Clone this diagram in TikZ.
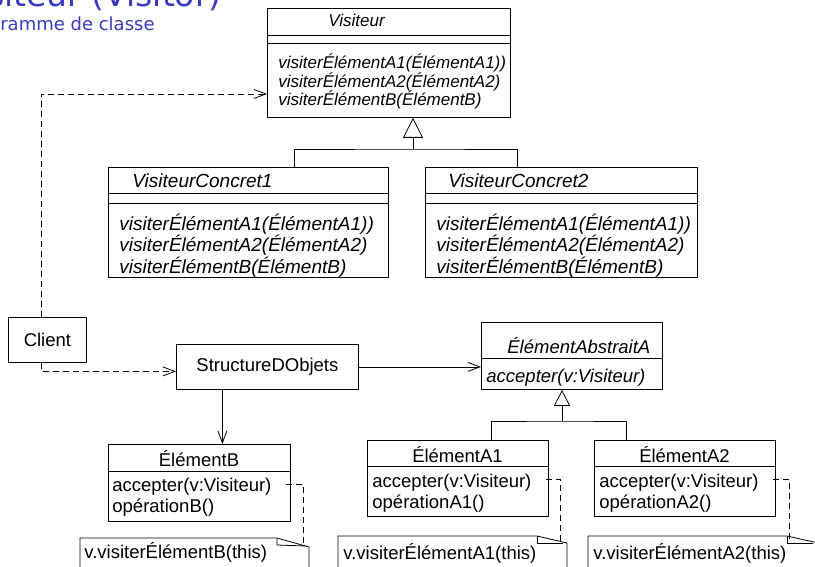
\documentclass[tikz,border=0pt]{standalone}
\usepackage{fontspec}
\setmainfont{Liberation Sans}
\newfontfamily\titlefont{DejaVu Sans}
\usetikzlibrary{arrows.meta,positioning}
\definecolor{bleutitre}{RGB}{58,58,190}
\newcommand{\petit}{\fontsize{17}{18.5}\selectfont}
\newcommand{\moyen}{\fontsize{18.5}{21}\selectfont}
\newcommand{\grand}{\fontsize{19}{19}\selectfont}

\tikzset{
  classe/.style={draw, rectangle, anchor=north west, inner sep=0pt},
  texte/.style={anchor=base west, inner sep=0pt, align=left},
  dep/.style={dash pattern=on 6pt off 4pt, -{Straight Barb[length=12pt, width=9pt]}},
  assoc/.style={-{Straight Barb[length=12pt, width=9pt]}},
  herit/.style={-{Triangle[open, length=20pt, width=20pt]}},
  lien/.style={dash pattern=on 6pt off 4pt},
}

\begin{document}
\begin{tikzpicture}[x=1pt, y=-1pt, line width=0.8pt]
  \useasboundingbox (0,0) rectangle (815,567);
  \clip (0,0) rectangle (815,567);

  % Title
  \node[anchor=base east, inner sep=0pt, text=bleutitre, font=\titlefont\fontsize{33}{33}\selectfont] (titre) at (222,7) {Visiteur (Visitor)};
  \node[anchor=base east, inner sep=0pt, text=bleutitre, font=\titlefont\fontsize{18}{18}\selectfont] (soustitre) at (155,31) {Diagramme de classe};

  % Visiteur (multi-line texts are placed by their last baseline)
  \node[classe, minimum width=243, minimum height=109] (vis) at (267,8) {};
  \draw ([yshift=-27pt]vis.north west) -- ([yshift=-27pt]vis.north east);
  \draw ([yshift=-35pt]vis.north west) -- ([yshift=-35pt]vis.north east);
  \node[texte, font=\petit\itshape] (vis-nom) at (328,27) {Visiteur};
  \node[texte, font=\petit\itshape] (vis-ops) at (278,106) {visiterÉlémentA1(ÉlémentA1))\\visiterÉlémentA2(ÉlémentA2)\\visiterÉlémentB(ÉlémentB)};

  % Concrete visitors
  \node[classe, minimum width=280, minimum height=110] (vc1) at (108,167) {};
  \draw ([yshift=-26pt]vc1.north west) -- ([yshift=-26pt]vc1.north east);
  \draw ([yshift=-36pt]vc1.north west) -- ([yshift=-36pt]vc1.north east);
  \node[texte, font=\grand\itshape] (vc1-nom) at (132,188) {VisiteurConcret1};
  \node[texte, font=\grand\itshape] (vc1-ops) at (119,273) {visiterÉlémentA1(ÉlémentA1))\\visiterÉlémentA2(ÉlémentA2)\\visiterÉlémentB(ÉlémentB)};

  \node[classe, minimum width=272, minimum height=110] (vc2) at (425,167) {};
  \draw ([yshift=-26pt]vc2.north west) -- ([yshift=-26pt]vc2.north east);
  \draw ([yshift=-36pt]vc2.north west) -- ([yshift=-36pt]vc2.north east);
  \node[texte, font=\grand\itshape] (vc2-nom) at (448,188) {VisiteurConcret2};
  \node[texte, font=\grand\itshape] (vc2-ops) at (436,273) {visiterÉlémentA1(ÉlémentA1))\\visiterÉlémentA2(ÉlémentA2)\\visiterÉlémentB(ÉlémentB)};

  % Inheritance of the visitors
  \coordinate (j1) at (413,149);
  \draw[herit] (j1) -- (j1 |- vis.south);
  \draw ([xshift=186pt]vc1.north west) |- (j1) -| ([xshift=92pt]vc2.north west);

  % Client and structure
  \node[classe, minimum width=78, minimum height=45, font=\moyen] (client) at (8,317) {Client};
  \node[classe, minimum width=182, minimum height=45, font=\moyen] (sdo) at (176,344) {StructureDObjets};

  % Element classes
  \node[classe, minimum width=181, minimum height=67] (eaa) at (481,322) {};
  \draw ([yshift=-36pt]eaa.north west) -- ([yshift=-36pt]eaa.north east);
  \node[texte, font=\moyen\itshape] (eaa-nom) at (507,353) {ÉlémentAbstraitA};
  \node[texte, font=\moyen\itshape] (eaa-ops) at (486,382) {accepter(v:Visiteur)};

  \node[classe, minimum width=182, minimum height=77] (eb) at (108,444) {};
  \draw ([yshift=-27pt]eb.north west) -- ([yshift=-27pt]eb.north east);
  \node[anchor=base, inner sep=0pt, font=\moyen] (eb-nom) at (199,466) {ÉlémentB};
  \node[texte, font=\moyen] (eb-ops) at (112,512) {accepter(v:Visiteur)\\opérationB()};

  \node[classe, minimum width=181, minimum height=76] (ea1) at (367,440) {};
  \draw ([yshift=-26pt]ea1.north west) -- ([yshift=-26pt]ea1.north east);
  \node[anchor=base, inner sep=0pt, font=\moyen] (ea1-nom) at (457.5,462) {ÉlémentA1};
  \node[texte, font=\moyen] (ea1-ops) at (372,508) {accepter(v:Visiteur)\\opérationA1()};

  \node[classe, minimum width=181, minimum height=76] (ea2) at (594,440) {};
  \draw ([yshift=-26pt]ea2.north west) -- ([yshift=-26pt]ea2.north east);
  \node[anchor=base, inner sep=0pt, font=\moyen] (ea2-nom) at (684.5,462) {ÉlémentA2};
  \node[texte, font=\moyen] (ea2-ops) at (599,508) {accepter(v:Visiteur)\\opérationA2()};

  % Inheritance of the elements
  \coordinate (j2) at (562,421);
  \draw[herit, -{Triangle[open, length=16pt, width=16pt]}] (j2) -- (j2 |- eaa.south);
  \draw ([xshift=124pt]ea1.north west) |- (j2) -| ([xshift=32pt]ea2.north west);

  % Dependencies and associations
  \draw[dep] ([xshift=-6pt]client.north) |- ([yshift=-86pt]vis.north west);
  \draw[dep] ([xshift=-6pt]client.south) |- ([yshift=-4.5pt]sdo.west);
  \draw[assoc] (sdo.east) -- (sdo.east -| eaa.west);
  \draw[assoc] ([xshift=-45pt]sdo.south) -- ([xshift=-45pt]sdo.south |- eb.north);

  % Notes
  \draw (80,570) -- (80,538) -- (277,538) -- (309,547) -- (309,570);
  \draw (277,538) -- (277,545) -- (305,546);
  \node[texte, font=\moyen] (noteb) at (84,558) {v.visiterÉlémentB(this)};
  \coordinate (noteb-coin) at (303,546);
  \draw[lien] ([xshift=-5pt,yshift=-40pt]eb.north east) -| (noteb-coin);

  \draw (338,570) -- (338,536) -- (537,536) -- (567,543) -- (567,570);
  \draw (537,536) -- (537,543) -- (563,543);
  \node[texte, font=\moyen] (notea1) at (343,559) {v.visiterÉlémentA1(this)};
  \coordinate (notea1-coin) at (560,542);
  \draw[lien] ([xshift=-3pt,yshift=-39pt]ea1.north east) -| (notea1-coin);

  \draw (588,570) -- (588,536) -- (787,536) -- (818,543) -- (818,570);
  \draw (787,536) -- (787,543) -- (813,543);
  \node[texte, font=\moyen] (notea2) at (593,559) {v.visiterÉlémentA2(this)};
  \coordinate (notea2-coin) at (789,542);
  \draw[lien] ([xshift=-3pt,yshift=-39pt]ea2.north east) -| (notea2-coin);
\end{tikzpicture}
\end{document}
